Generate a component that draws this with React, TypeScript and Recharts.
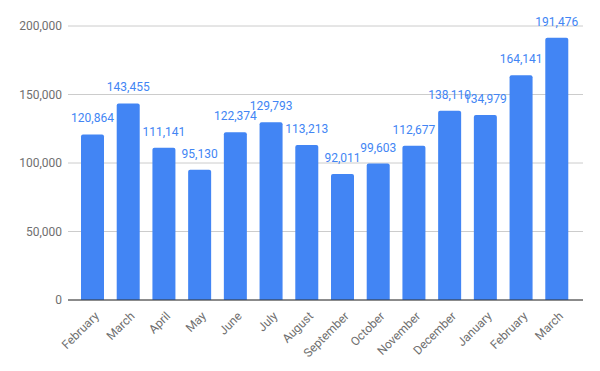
import { BarChart, Bar, XAxis, YAxis, CartesianGrid, LabelList } from "recharts";

const months = [
  "February", "March", "April", "May", "June", "July", "August",
  "September", "October", "November", "December", "January", "February", "March",
];
const values = [
  120864, 143455, 111141, 95130, 122374, 129793, 113213,
  92011, 99603, 112677, 138110, 134979, 164141, 191476,
];
const yTicks = [0, 50000, 100000, 150000, 200000];

const data = months.map((m, i) => ({ key: i, month: m, value: values[i] }));

const fmt = (v: number) => v.toLocaleString("en-US");

const AxisTick = (props: any) => {
  const { x, y, payload } = props;
  return (
    <g transform={`translate(${x + 4},${y + 6})`}>
      <text
        x={0}
        y={0}
        dy={4}
        textAnchor="end"
        transform="rotate(-45)"
        fill="#6f6f6f"
        fontSize={12}
        fontFamily="Roboto, sans-serif"
      >
        {months[payload.value]}
      </text>
    </g>
  );
};

export default function App() {
  return (
    <div style={{ position: "absolute", left: 0, top: 0, background: "#fff" }}>
      <BarChart
        width={600}
        height={371}
        data={data}
        margin={{ top: 26, right: 17, bottom: 0, left: 0 }}
        barSize={23}
      >
        <CartesianGrid vertical={false} stroke="#cccccc" />
        <XAxis
          dataKey="key"
          height={71}
          tickLine={false}
          axisLine={{ stroke: "#333333" }}
          interval={0}
          padding={{ left: 7, right: 8 }}
          tick={<AxisTick />}
        />
        <YAxis
          width={68}
          domain={[0, 200000]}
          ticks={yTicks}
          tickFormatter={fmt}
          axisLine={false}
          tickLine={false}
          tickMargin={0}
          tick={{ fill: "#6f6f6f", fontSize: 12, fontFamily: "Roboto, sans-serif" }}
        />
        <Bar dataKey="value" fill="#4285f4" radius={[2, 2, 0, 0]} isAnimationActive={false}>
          <LabelList
            dataKey="value"
            position="top"
            offset={12}
            formatter={(v: any) => fmt(Number(v))}
            fill="#4285f4"
            fontSize={12}
            fontFamily="Roboto, sans-serif"
          />
        </Bar>
      </BarChart>
    </div>
  );
}
